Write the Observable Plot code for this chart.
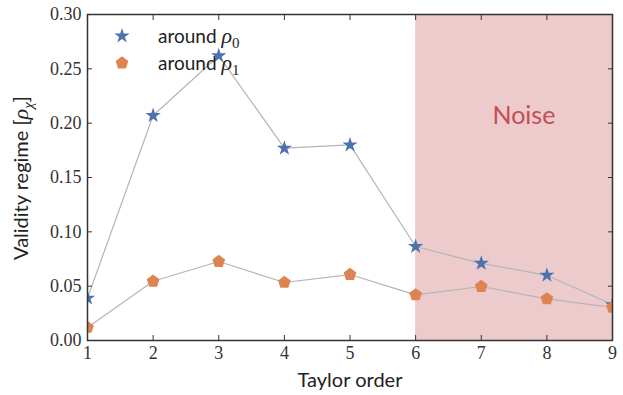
<!DOCTYPE html>
<html>
<head>
<meta charset="utf-8">
<script src="https://cdn.jsdelivr.net/npm/d3@7"></script>
<script src="https://cdn.jsdelivr.net/npm/@observablehq/plot@0.6"></script>
<style>
  html, body { margin: 0; padding: 0; background: #fff; }
  #wrap { position: relative; width: 623px; height: 395px; }
  #wrap svg { position: absolute; left: 0; top: 0; }
  .legend { position: absolute; left: 0; top: 0; font-family: Lato, sans-serif; font-size: 19px; color: #222; }
  .legend .item { position: absolute; white-space: nowrap; }
  .math { font-family: "Liberation Serif", serif; font-style: italic; font-size: 22px; }
  .sub { font-family: "Liberation Serif", serif; font-size: 15px; }
  .ylab { position: absolute; left: 22px; top: 178px; transform: translate(-50%, -50%) rotate(-90deg);
          white-space: nowrap; font-family: Lato, sans-serif; font-size: 20px; color: #222; }
</style>
</head>
<body>
<div id="wrap"></div>
<script>
// ---- data ----
const orders = [1, 2, 3, 4, 5, 6, 7, 8, 9];
const aroundRho0 = [0.039, 0.207, 0.262, 0.177, 0.180, 0.0865, 0.071, 0.060, 0.033];
const aroundRho1 = [0.012, 0.0545, 0.0727, 0.0534, 0.0607, 0.042, 0.0497, 0.0383, 0.0305];
const seriesNames = ["around ρ0", "around ρ1"];
const yTicks = [0, 0.05, 0.10, 0.15, 0.20, 0.25, 0.30];
const noiseRegion = [{start: 6, end: 9}];
const noiseLabel = [{x: 7.65, y: 0.207, text: "Noise"}];

const s0 = orders.map((o, i) => ({order: o, value: aroundRho0[i]}));
const s1 = orders.map((o, i) => ({order: o, value: aroundRho1[i]}));

const pentagon = {
  draw(ctx, size) {
    const R = Math.sqrt(size / 2.378);
    for (let k = 0; k < 5; k++) {
      const a = -Math.PI / 2 + k * 2 * Math.PI / 5;
      const px = R * Math.cos(a), py = R * Math.sin(a);
      if (k === 0) ctx.moveTo(px, py); else ctx.lineTo(px, py);
    }
    ctx.closePath();
  }
};

const blue = "#4c72b0", orange = "#dd8452", red = "#c44e52";
const sans = "Lato, sans-serif";
const starR = 4.8, pentR = 5.8;

const chart = Plot.plot({
  width: 623, height: 395,
  marginLeft: 87, marginRight: 11, marginTop: 14, marginBottom: 55,
  style: {fontFamily: "'Liberation Serif', serif", fontSize: "18px", color: "#333", background: "white"},
  x: {domain: [1, 9]},
  y: {domain: [0, 0.30]},
  marks: [
    Plot.rect(noiseRegion, {x1: "start", x2: "end", fill: red, fillOpacity: 0.3}),
    Plot.line(s0, {x: "order", y: "value", stroke: "#b5b5b5", strokeWidth: 1.2, clip: true}),
    Plot.line(s1, {x: "order", y: "value", stroke: "#b5b5b5", strokeWidth: 1.2, clip: true}),
    Plot.dot(s0, {x: "order", y: "value", symbol: "star", r: starR, fill: blue, stroke: "none", clip: true}),
    Plot.dot(s1, {x: "order", y: "value", symbol: pentagon, r: pentR, fill: orange, stroke: "none", clip: true}),
    Plot.text(noiseLabel, {x: "x", y: "y", text: "text", fill: red, fontFamily: sans, fontSize: 25}),
    Plot.axisX({ticks: orders, tickFormat: d => String(d), tickSize: -5, tickPadding: 11, label: null, stroke: "#333"}),
    Plot.axisX({anchor: "top", ticks: orders, tickFormat: () => "", tickSize: -5, label: null, stroke: "#333"}),
    Plot.axisY({ticks: yTicks, tickFormat: d3.format(".2f"), tickSize: -5, tickPadding: 11, label: null, stroke: "#333"}),
    Plot.axisY({anchor: "right", ticks: yTicks, tickFormat: () => "", tickSize: -5, label: null, stroke: "#333"}),
    Plot.text(["Taylor order"], {frameAnchor: "bottom", dy: 46, text: d => d, fontFamily: sans, fontSize: 20, fill: "#222"}),
    Plot.frame({stroke: "#333", strokeWidth: 1.5})
  ]
});

const wrap = document.getElementById("wrap");
wrap.appendChild(chart);

// y label
const yl = document.createElement("div");
yl.className = "ylab";
yl.innerHTML = 'Validity regime [<span class="math">ρ</span><sub class="math" style="font-size:15px">χ</sub>]';
wrap.appendChild(yl);

// legend
const legend = document.createElement("div");
legend.className = "legend";
const items = [
  {name: seriesNames[0], color: blue, sym: d3.symbol(d3.symbolStar, starR * starR * Math.PI)(), y: 36},
  {name: seriesNames[1], color: orange, sym: d3.symbol(pentagon, pentR * pentR * Math.PI)(), y: 63}
];
items.forEach(it => {
  const sym = document.createElementNS("http://www.w3.org/2000/svg", "svg");
  sym.setAttribute("width", 24); sym.setAttribute("height", 24);
  sym.style.position = "absolute";
  sym.style.left = (122 - 12) + "px";
  sym.style.top = (it.y - 12) + "px";
  sym.innerHTML = `<path transform="translate(12,12)" d="${it.sym}" fill="${it.color}"></path>`;
  legend.appendChild(sym);
  const t = document.createElement("div");
  t.className = "item";
  t.style.left = "158px";
  t.style.top = (it.y - 13) + "px";
  const base = it.name.slice(0, -2), sub = it.name.slice(-1);
  t.innerHTML = `${base}<span class="math">ρ</span><sub class="sub">${sub}</sub>`;
  legend.appendChild(t);
});
wrap.appendChild(legend);
</script>
</body>
</html>
